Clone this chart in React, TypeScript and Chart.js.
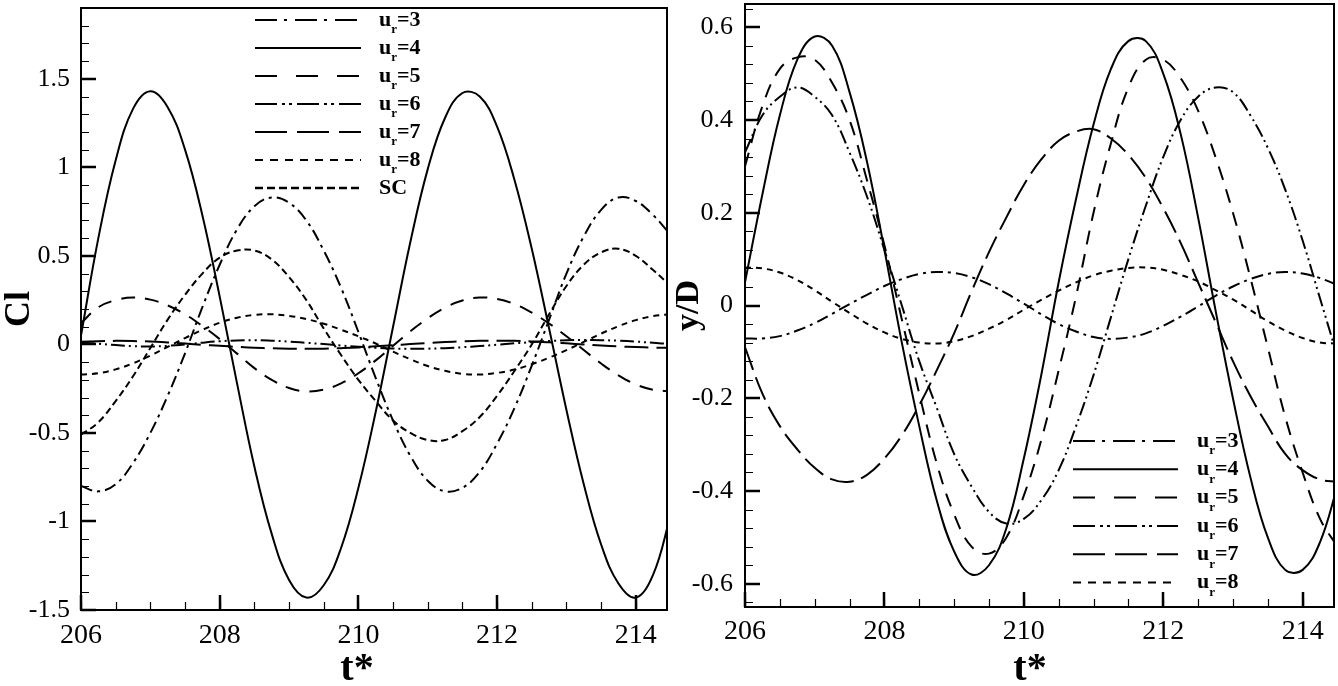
import React, { useEffect, useRef } from "react";
import { Chart, registerables } from "chart.js";

Chart.register(...registerables);

const FONT = '"Liberation Serif", "Times New Roman", Times, serif';

// ---------- data ----------
const tValues = [
  206, 206.25, 206.5, 206.75, 207, 207.25, 207.5, 207.75, 208, 208.25, 208.5, 208.75,
  209, 209.25, 209.5, 209.75, 210, 210.25, 210.5, 210.75, 211, 211.25, 211.5, 211.75,
  212, 212.25, 212.5, 212.75, 213, 213.25, 213.5, 213.75, 214, 214.25, 214.5,
];

const xTickValues = [206, 208, 210, 212, 214];
const clTickValues = [-1.5, -1, -0.5, 0, 0.5, 1, 1.5];
const ydTickValues = [-0.6, -0.4, -0.2, 0, 0.2, 0.4, 0.6];

// Left panel: lift coefficient Cl
const clUr3 = [
  -0.8, -0.83, -0.79, -0.67, -0.5, -0.29, -0.05, 0.21, 0.45, 0.65, 0.78, 0.83,
  0.8, 0.7, 0.53, 0.32, 0.07, -0.19, -0.43, -0.63, -0.77, -0.83, -0.81, -0.72,
  -0.56, -0.36, -0.12, 0.14, 0.4, 0.61, 0.76, 0.83, 0.81, 0.73, 0.62,
];
const clUr4 = [
  0.05, 0.6, 1.04, 1.33, 1.43, 1.34, 1.1, 0.73, 0.27, -0.22, -0.69, -1.07,
  -1.33, -1.43, -1.36, -1.15, -0.81, -0.38, 0.1, 0.58, 0.99, 1.28, 1.42, 1.4,
  1.23, 0.93, 0.54, 0.09, -0.37, -0.79, -1.13, -1.35, -1.43, -1.3, -0.97,
];
const clUr5 = [
  0.12, 0.21, 0.25, 0.265, 0.253, 0.22, 0.17, 0.104, 0.03, -0.052, -0.134, -0.2,
  -0.246, -0.265, -0.255, -0.22, -0.163, -0.09, -0.007, 0.074, 0.148, 0.208, 0.248, 0.265,
  0.257, 0.228, 0.18, 0.118, 0.046, -0.032, -0.108, -0.175, -0.226, -0.256, -0.265,
];
const clUr6 = [
  0.01, 0.004, -0.004, -0.01, -0.012, -0.008, 0.0, 0.01, 0.018, 0.022, 0.024, 0.021,
  0.016, 0.009, 0.002, -0.006, -0.013, -0.019, -0.023, -0.025, -0.024, -0.021, -0.016, -0.009,
  -0.002, 0.006, 0.013, 0.019, 0.023, 0.025, 0.024, 0.021, 0.016, 0.009, 0.002,
];
const clUr7 = [
  0.015, 0.018, 0.02, 0.019, 0.016, 0.011, 0.005, -0.002, -0.008, -0.014, -0.019, -0.022,
  -0.024, -0.025, -0.024, -0.021, -0.017, -0.011, -0.005, 0.002, 0.008, 0.013, 0.017, 0.02,
  0.021, 0.02, 0.017, 0.012, 0.006, 0.0, -0.006, -0.011, -0.015, -0.018, -0.019,
];
const clUr8 = [
  -0.17, -0.163, -0.141, -0.107, -0.063, -0.014, 0.036, 0.082, 0.122, 0.151, 0.167, 0.17,
  0.161, 0.143, 0.117, 0.083, 0.046, 0.005, -0.041, -0.084, -0.122, -0.149, -0.166, -0.17,
  -0.161, -0.142, -0.112, -0.075, -0.032, 0.014, 0.061, 0.103, 0.137, 0.16, 0.17,
];
const clSC = [
  -0.51, -0.44, -0.32, -0.18, -0.02, 0.14, 0.28, 0.4, 0.49, 0.53, 0.53, 0.48,
  0.38, 0.25, 0.09, -0.06, -0.2, -0.32, -0.43, -0.5, -0.54, -0.54, -0.49, -0.41,
  -0.29, -0.15, 0.0, 0.17, 0.33, 0.45, 0.52, 0.54, 0.5, 0.42, 0.33,
];

// Right panel: displacement y/D
const ydUr3 = [
  -0.071, -0.071, -0.066, -0.054, -0.038, -0.018, 0.003, 0.023, 0.042, 0.057, 0.068, 0.072,
  0.07, 0.061, 0.046, 0.026, 0.004, -0.019, -0.04, -0.056, -0.068, -0.072, -0.069, -0.06,
  -0.044, -0.024, -0.002, 0.021, 0.041, 0.057, 0.068, 0.072, 0.069, 0.059, 0.044,
];
const ydUr4 = [
  0.05, 0.24, 0.41, 0.53, 0.58, 0.56, 0.46, 0.31, 0.12, -0.08, -0.26, -0.42,
  -0.53, -0.58, -0.56, -0.48, -0.33, -0.15, 0.05, 0.23, 0.39, 0.51, 0.57, 0.57,
  0.5, 0.37, 0.19, -0.01, -0.2, -0.37, -0.5, -0.57, -0.57, -0.51, -0.39,
];
const ydUr5 = [
  0.3, 0.43, 0.51, 0.535, 0.53, 0.48, 0.4, 0.27, 0.13, -0.03, -0.19, -0.34,
  -0.45, -0.52, -0.535, -0.5, -0.41, -0.29, -0.14, 0.02, 0.2, 0.35, 0.47, 0.53,
  0.53, 0.49, 0.42, 0.32, 0.2, 0.06, -0.09, -0.24, -0.36, -0.46, -0.52,
];
const ydUr6 = [
  0.33, 0.41, 0.45, 0.47, 0.45, 0.41, 0.33, 0.235, 0.12, 0.0, -0.12, -0.22,
  -0.32, -0.39, -0.445, -0.47, -0.46, -0.42, -0.355, -0.26, -0.15, -0.025, 0.1, 0.215,
  0.32, 0.4, 0.45, 0.47, 0.46, 0.41, 0.34, 0.25, 0.14, 0.015, -0.11,
];
const ydUr7 = [
  -0.09, -0.19, -0.26, -0.31, -0.35, -0.375, -0.38, -0.365, -0.33, -0.28, -0.215, -0.14,
  -0.06, 0.03, 0.115, 0.19, 0.26, 0.315, 0.355, 0.375, 0.38, 0.36, 0.325, 0.275,
  0.21, 0.135, 0.05, -0.035, -0.12, -0.195, -0.26, -0.32, -0.355, -0.375, -0.38,
];
const ydUr8 = [
  0.082, 0.08, 0.071, 0.055, 0.033, 0.008, -0.016, -0.039, -0.058, -0.072, -0.08, -0.082,
  -0.077, -0.066, -0.05, -0.031, -0.009, 0.012, 0.032, 0.05, 0.065, 0.075, 0.081, 0.082,
  0.077, 0.066, 0.052, 0.033, 0.013, -0.01, -0.034, -0.054, -0.07, -0.08, -0.082,
];

// ---------- styles ----------
type Series = { name: string; values: number[]; dash: number[]; legendDash: number[]; width: number };

const DASH_DOT = [12, 5, 3, 5];
const DASH_DOT_LEG = [22, 7, 3, 8];
const DASH_MED = [14, 10];
const DASH_MED_LEG = [22, 19];
const DASH_DDOT = [14, 4, 2, 4, 2, 4];
const DASH_DDOT_LEG = [22, 5, 3, 4, 3, 5];
const DASH_LONG = [24, 8];
const DASH_LONG_LEG = [32, 10];
const DASH_SHORT = [6, 5];
const DASH_SHORT_LEG = [8, 7];
const DASH_SC = [7, 4];
const DASH_SC_LEG = [8, 4];

const clSeries: Series[] = [
  { name: "u_r=3", values: clUr3, dash: DASH_DOT, legendDash: DASH_DOT_LEG, width: 2 },
  { name: "u_r=4", values: clUr4, dash: [], legendDash: [], width: 2 },
  { name: "u_r=5", values: clUr5, dash: DASH_MED, legendDash: DASH_MED_LEG, width: 2 },
  { name: "u_r=6", values: clUr6, dash: DASH_DDOT, legendDash: DASH_DDOT_LEG, width: 2 },
  { name: "u_r=7", values: clUr7, dash: DASH_LONG, legendDash: DASH_LONG_LEG, width: 2 },
  { name: "u_r=8", values: clUr8, dash: DASH_SHORT, legendDash: DASH_SHORT_LEG, width: 2 },
  { name: "SC", values: clSC, dash: DASH_SC, legendDash: DASH_SC_LEG, width: 2 },
];

const ydSeries: Series[] = [
  { name: "u_r=3", values: ydUr3, dash: DASH_DOT, legendDash: DASH_DOT_LEG, width: 2 },
  { name: "u_r=4", values: ydUr4, dash: [], legendDash: [], width: 2 },
  { name: "u_r=5", values: ydUr5, dash: DASH_MED, legendDash: DASH_MED_LEG, width: 2 },
  { name: "u_r=6", values: ydUr6, dash: DASH_DDOT, legendDash: DASH_DDOT_LEG, width: 2 },
  { name: "u_r=7", values: ydUr7, dash: DASH_LONG, legendDash: DASH_LONG_LEG, width: 2 },
  { name: "u_r=8", values: ydUr8, dash: DASH_SHORT, legendDash: DASH_SHORT_LEG, width: 2 },
];

type PanelCfg = {
  series: Series[];
  yTitle: string;
  yTitleSize: number;
  yMin: number;
  yMax: number;
  yTicks: number[];
  yMinor: number;
  xMin: number;
  xMax: number;
  xMinor: number;
  yAxisWidth: number;
  xAxisHeight: number;
  padTop: number;
  padRight: number;
  yLabelPad: number;
  xLabelPad: number;
  xTitleX: number;
  xTitleY: number;
  legend: { x1: number; x2: number; textX: number; y0: number; dy: number };
};

const fmt = (v: any) => String(Math.round(Number(v) * 100) / 100);

function drawLegendLabel(ctx: CanvasRenderingContext2D, name: string, x: number, y: number) {
  const main = `bold 22px ${FONT}`;
  const sub = `bold 13px ${FONT}`;
  ctx.fillStyle = "#000";
  ctx.textBaseline = "middle";
  ctx.textAlign = "left";
  if (name.startsWith("u_r")) {
    ctx.font = main;
    ctx.fillText("u", x, y);
    x += ctx.measureText("u").width;
    ctx.font = sub;
    ctx.fillText("r", x, y + 10);
    x += ctx.measureText("r").width;
    ctx.font = main;
    ctx.fillText(name.slice(3), x, y);
  } else {
    ctx.font = main;
    ctx.fillText(name, x, y);
  }
}

function makeFramePlugin(cfg: PanelCfg) {
  return {
    id: "frameTicks",
    afterDatasetsDraw(chart: any) {
      const { ctx, chartArea } = chart;
      const { left, right, top, bottom } = chartArea;
      const xs = chart.scales.x;
      const ys = chart.scales.y;
      ctx.save();
      ctx.strokeStyle = "#000";
      ctx.setLineDash([]);
      // minor ticks
      ctx.lineWidth = 1.2;
      ctx.beginPath();
      const kx0 = Math.ceil(cfg.xMin / cfg.xMinor - 1e-6);
      const kx1 = Math.floor(cfg.xMax / cfg.xMinor + 1e-6);
      for (let k = kx0; k <= kx1; k++) {
        const v = k * cfg.xMinor;
        const px = Math.round(xs.getPixelForValue(v)) + 0.5;
        ctx.moveTo(px, bottom);
        ctx.lineTo(px, bottom - 8);
      }
      const ky0 = Math.ceil(cfg.yMin / cfg.yMinor - 1e-6);
      const ky1 = Math.floor(cfg.yMax / cfg.yMinor + 1e-6);
      for (let k = ky0; k <= ky1; k++) {
        const v = k * cfg.yMinor;
        const py = Math.round(ys.getPixelForValue(v)) + 0.5;
        ctx.moveTo(left, py);
        ctx.lineTo(left + 8, py);
      }
      ctx.stroke();
      // major ticks
      ctx.lineWidth = 2.5;
      ctx.beginPath();
      xTickValues.forEach((v) => {
        const px = Math.round(xs.getPixelForValue(v));
        ctx.moveTo(px, bottom);
        ctx.lineTo(px, bottom - 15);
      });
      cfg.yTicks.forEach((v) => {
        const py = Math.round(ys.getPixelForValue(v));
        ctx.moveTo(left, py);
        ctx.lineTo(left + 15, py);
      });
      ctx.stroke();
      // frame
      ctx.lineWidth = 2;
      ctx.strokeRect(left, top, right - left, bottom - top);
      ctx.restore();
    },
    afterDraw(chart: any) {
      const { ctx } = chart;
      const L = cfg.legend;
      ctx.save();
      cfg.series.forEach((s, i) => {
        const y = L.y0 + i * L.dy;
        ctx.strokeStyle = "#000";
        ctx.lineWidth = s.name === "SC" ? 2.6 : 2;
        ctx.setLineDash(s.legendDash);
        ctx.beginPath();
        ctx.moveTo(L.x1, y);
        ctx.lineTo(L.x2, y);
        ctx.stroke();
        ctx.setLineDash([]);
        drawLegendLabel(ctx, s.name, L.textX, y);
      });
      // x axis title
      ctx.fillStyle = "#000";
      ctx.font = `bold 40px ${FONT}`;
      ctx.textAlign = "center";
      ctx.textBaseline = "middle";
      ctx.fillText("t*", cfg.xTitleX, cfg.xTitleY);
      ctx.restore();
    },
  };
}

function buildChart(canvas: HTMLCanvasElement, cfg: PanelCfg) {
  const datasets = cfg.series.map((s) => ({
    label: s.name,
    data: tValues.map((t, i) => ({ x: t, y: s.values[i] })),
    borderColor: "#000",
    backgroundColor: "#000",
    borderWidth: s.width,
    borderDash: s.dash,
    pointRadius: 0,
    fill: false,
    tension: 0.4,
  }));
  return new Chart(canvas, {
    type: "line",
    data: { datasets },
    plugins: [makeFramePlugin(cfg)],
    options: {
      animation: false,
      responsive: false,
      devicePixelRatio: 1,
      layout: { padding: { top: cfg.padTop, right: cfg.padRight, left: 0, bottom: 0 } },
      plugins: { legend: { display: false }, tooltip: { enabled: false } },
      scales: {
        x: {
          type: "linear",
          min: cfg.xMin,
          max: cfg.xMax,
          afterBuildTicks: (s: any) => {
            s.ticks = xTickValues.map((v) => ({ value: v }));
          },
          afterFit: (s: any) => {
            s.height = cfg.xAxisHeight;
            s.paddingLeft = 0;
            s.paddingRight = 0;
          },
          grid: { display: false, drawTicks: false },
          border: { display: false },
          ticks: {
            color: "#000",
            font: { family: FONT, size: 28 },
            padding: cfg.xLabelPad,
            maxRotation: 0,
            autoSkip: false,
            callback: (v: any) => fmt(v),
          },
          title: { display: false },
        },
        y: {
          type: "linear",
          min: cfg.yMin,
          max: cfg.yMax,
          afterBuildTicks: (s: any) => {
            s.ticks = cfg.yTicks.map((v) => ({ value: v }));
          },
          afterFit: (s: any) => {
            s.width = cfg.yAxisWidth;
            s.paddingTop = 0;
            s.paddingBottom = 0;
          },
          grid: { display: false, drawTicks: false },
          border: { display: false },
          ticks: {
            color: "#000",
            font: { family: FONT, size: 26 },
            padding: cfg.yLabelPad,
            autoSkip: false,
            callback: (v: any) => fmt(v),
          },
          title: {
            display: true,
            text: cfg.yTitle,
            color: "#000",
            font: { family: FONT, size: cfg.yTitleSize, weight: "bold", lineHeight: 1 },
            padding: { top: 2, bottom: 0 },
          },
        },
      },
    } as any,
  });
}

const leftCfg: PanelCfg = {
  series: clSeries,
  yTitle: "Cl",
  yTitleSize: 36,
  yMin: -1.5,
  yMax: 1.9,
  yTicks: clTickValues,
  yMinor: 0.1,
  xMin: 206,
  xMax: 214.45,
  xMinor: 0.5,
  yAxisWidth: 81,
  xAxisHeight: 76,
  padTop: 8,
  padRight: 5,
  yLabelPad: 11,
  xLabelPad: 9,
  xTitleX: 357,
  xTitleY: 670,
  legend: { x1: 255, x2: 361, textX: 379, y0: 20, dy: 28 },
};

const rightCfg: PanelCfg = {
  series: ydSeries,
  yTitle: "y/D",
  yTitleSize: 34,
  yMin: -0.65,
  yMax: 0.65,
  yTicks: ydTickValues,
  yMinor: 0.04,
  xMin: 206,
  xMax: 214.45,
  xMinor: 0.5,
  yAxisWidth: 75,
  xAxisHeight: 79,
  padTop: 4,
  padRight: 4,
  yLabelPad: 12,
  xLabelPad: 8,
  xTitleX: 360,
  xTitleY: 670,
  legend: { x1: 403, x2: 508, textX: 527, y0: 441, dy: 28.3 },
};

export default function App() {
  const leftRef = useRef<HTMLCanvasElement | null>(null);
  const rightRef = useRef<HTMLCanvasElement | null>(null);

  useEffect(() => {
    const c1 = leftRef.current ? buildChart(leftRef.current, leftCfg) : null;
    const c2 = rightRef.current ? buildChart(rightRef.current, rightCfg) : null;
    return () => {
      c1?.destroy();
      c2?.destroy();
    };
  }, []);

  return (
    <div
      style={{
        position: "fixed",
        left: 0,
        top: 0,
        width: 1338,
        height: 686,
        background: "#fff",
        overflow: "hidden",
      }}
    >
      <canvas ref={leftRef} width={672} height={686} style={{ position: "absolute", left: 0, top: 0 }} />
      <canvas ref={rightRef} width={668} height={686} style={{ position: "absolute", left: 670, top: 0 }} />
    </div>
  );
}
